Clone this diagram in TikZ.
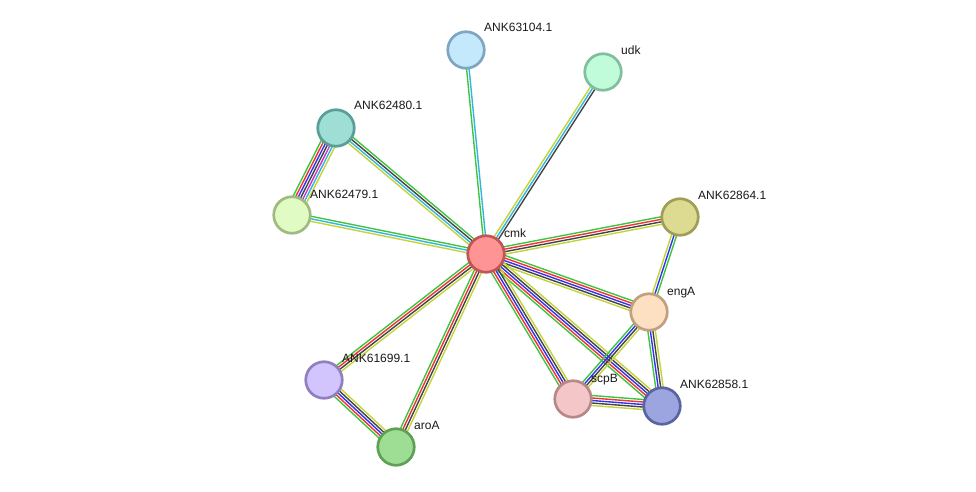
\documentclass[tikz,border=0pt]{standalone}
\usepackage{fontspec}
\setmainfont{Liberation Sans}
\usetikzlibrary{calc}
\pgfdeclarelayer{bg}
\pgfsetlayers{bg,main}
\definecolor{sgreen}{HTML}{3FC43F}
\definecolor{sred}{HTML}{EE3333}
\definecolor{sblue}{HTML}{3333EE}
\definecolor{sblack}{HTML}{444444}
\definecolor{smag}{HTML}{CC33CC}
\definecolor{scyan}{HTML}{33B5E0}
\definecolor{syel}{HTML}{C2D43A}
\definecolor{fcmk}{HTML}{FF9494}\definecolor{dcmk}{HTML}{C05555}
\definecolor{fa}{HTML}{C4E8FC}\definecolor{da}{HTML}{7FA6C0}
\definecolor{fudk}{HTML}{C0FCDA}\definecolor{dudk}{HTML}{80BE9C}
\definecolor{fb}{HTML}{9DDED5}\definecolor{db}{HTML}{5A9E96}
\definecolor{fc}{HTML}{E0FCC4}\definecolor{dc}{HTML}{A0BA80}
\definecolor{fd}{HTML}{DDDB92}\definecolor{dd}{HTML}{A09E55}
\definecolor{feng}{HTML}{FDE0C2}\definecolor{deng}{HTML}{C0A080}
\definecolor{fe}{HTML}{D2C4FD}\definecolor{de}{HTML}{9080C0}
\definecolor{faro}{HTML}{9EDE94}\definecolor{daro}{HTML}{5EA055}
\definecolor{fscp}{HTML}{F5C6C7}\definecolor{dscp}{HTML}{B88888}
\definecolor{ff}{HTML}{9CA5DF}\definecolor{dff}{HTML}{5A64A0}
\newcommand\stredge[3]{%
  \foreach \cc [count=\ii] in {#3} {\xdef\nn{\ii}}%
  \foreach \cc [count=\ii] in {#3} {%
    \pgfmathsetmacro\off{((\nn+1)/2-\ii)*2.5}%
    \draw[\cc,line width=1.4pt] ($(#1.center)!\off pt!90:(#2.center)$) -- ($(#2.center)!\off pt!-90:(#1.center)$);
  }%
}
\tikzset{
  nd/.style={circle,minimum size=36.5pt,inner sep=0pt,line width=2.7pt},
  lbl/.style={anchor=base west,inner sep=0pt,font=\fontsize{12}{14}\selectfont,text=black!90}
}
\begin{document}
\begin{tikzpicture}[x=1pt,y=-1pt]
\useasboundingbox (0,0) rectangle (976,492);
\node[nd,fill=fcmk,draw=dcmk] (cmk) at (486,254) {};
\node[nd,fill=fa,draw=da] (a63104) at (466,50) {};
\node[nd,fill=fudk,draw=dudk] (udk) at (603,72) {};
\node[nd,fill=fb,draw=db] (a62480) at (336,128) {};
\node[nd,fill=fc,draw=dc] (a62479) at (292,215) {};
\node[nd,fill=fd,draw=dd] (a62864) at (680,217) {};
\node[nd,fill=feng,draw=deng] (engA) at (649,312) {};
\node[nd,fill=fe,draw=de] (a61699) at (324,380) {};
\node[nd,fill=faro,draw=daro] (aroA) at (396,447) {};
\node[nd,fill=fscp,draw=dscp] (scpB) at (573,399) {};
\node[nd,fill=ff,draw=dff] (a62858) at (662,406) {};
\node[lbl] (Lcmk) at (504,237) {cmk};
\node[lbl] (L63104) at (484,32) {ANK63104.1};
\node[lbl] (Ludk) at (621,55) {udk};
\node[lbl] (L62480) at (354,110) {ANK62480.1};
\node[lbl] (L62479) at (310,198) {ANK62479.1};
\node[lbl] (L62864) at (698,199) {ANK62864.1};
\node[lbl] (LengA) at (667,295) {engA};
\node[lbl] (L61699) at (342,362) {ANK61699.1};
\node[lbl] (LaroA) at (414,429) {aroA};
\node[lbl] (LscpB) at (591,382) {scpB};
\node[lbl] (L62858) at (680,388) {ANK62858.1};
\begin{pgfonlayer}{bg}
\stredge{cmk}{a63104}{sgreen,scyan}
\stredge{udk}{cmk}{sblack,scyan,syel}
\stredge{a62480}{cmk}{sgreen,sblack,scyan,syel}
\stredge{a62479}{cmk}{sgreen,scyan,syel}
\stredge{a62479}{a62480}{sgreen,sred,sblue,sblack,smag,scyan,syel}
\stredge{cmk}{a62864}{sgreen,sred,sblack,syel}
\stredge{cmk}{engA}{sgreen,sred,sblue,sblack,syel}
\stredge{a62858}{cmk}{sgreen,sred,sblue,sblack,syel}
\stredge{scpB}{cmk}{sgreen,sred,sblue,sblack,syel}
\stredge{a61699}{cmk}{sgreen,sred,sblack,syel}
\stredge{aroA}{cmk}{sgreen,sred,sblack,syel}
\stredge{aroA}{a61699}{sgreen,sred,sblue,sblack,syel}
\stredge{a62864}{engA}{sgreen,sblue,syel}
\stredge{a62858}{engA}{sgreen,sblue,sblack,syel}
\stredge{scpB}{engA}{sgreen,sblue,sblack,syel}
\stredge{scpB}{a62858}{sgreen,sred,sblue,sblack,syel}
\end{pgfonlayer}
\end{tikzpicture}
\end{document}
